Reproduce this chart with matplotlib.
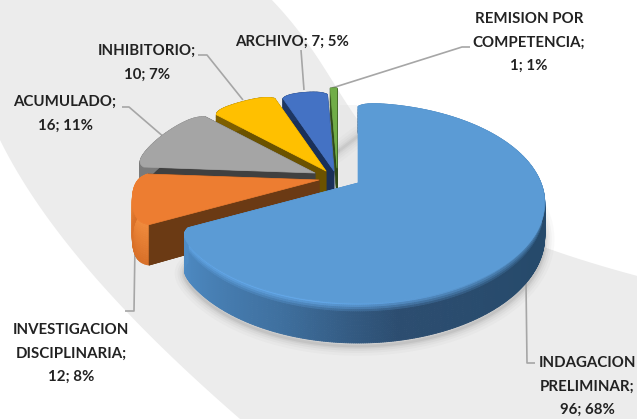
import numpy as np
import matplotlib
matplotlib.use("Agg")
import matplotlib.pyplot as plt
from matplotlib.collections import PolyCollection
from matplotlib.colors import to_rgb
from matplotlib.patches import Polygon

# ---- data ----
categories = ["INDAGACION PRELIMINAR", "INVESTIGACION DISCIPLINARIA", "ACUMULADO",
              "INHIBITORIO", "ARCHIVO", "REMISION POR COMPETENCIA"]
values = [96, 12, 16, 10, 7, 1]
label_heads = [["INDAGACION", "PRELIMINAR;"], ["INVESTIGACION", "DISCIPLINARIA;"], ["ACUMULADO;"],
               ["INHIBITORIO;"], None, ["REMISION POR", "COMPETENCIA;"]]

# ---- style ----
W, H = 637, 419
face = ["#5B9BD5", "#ED7D31", "#A5A5A5", "#FFC000", "#4472C4", "#70AD47"]
wall = ["#264A6B", "#ED7D31", "#7A7A7A", "#7F6000", "#1F3864", "#38571F"]
radial = ["#4F8DC7", "#6B3A14", "#404040", "#6B5200", "#1A3059", "#2F4A1A"]
apex = [(358, 183), (319, 180), (315, 173), (326, 171), (334, 171), (337, 168)]
depths = [32.0, 37.0, 32.0, 32.0, 32.0, 32.0]
label_pos = [(587, 363), (71, 330), (65, 102), (147, 51), (292, 42), (529, 19)]
leaders = [[(526, 283), (527, 363), (535, 363)],
           [(135, 245), (134, 311), (125, 311)],
           [(165, 138), (129, 107), (122, 107)],
           [(243, 100), (207, 55), (198, 55)],
           [(304, 90), (301, 50)],
           [(332, 88), (462, 47), (470, 47)]]
A, B, P = 96.0, 183.0, 0.2
LINE = 23.5

fig = plt.figure(figsize=(W / 100, H / 100), dpi=100, facecolor="white")
ax = fig.add_axes([0, 0, 1, 1])
ax.set_xlim(0, W)
ax.set_ylim(H, 0)
ax.axis("off")

# background swoosh
left_y = [140, 210, 310, 419]
left_x = [0, 42, 125, 240]
right_y = [0, 62, 125, 205, 247, 276]
right_x = [272, 320, 362, 450, 545, 637]
ly = np.linspace(140, 419, 80)
lx = np.polyval(np.polyfit(left_y, left_x, 3), ly)
ys = np.linspace(0, 276, 80)
rx = np.polyval(np.polyfit(right_y, right_x, 4), ys)
bg = np.vstack([[(0, 0)], np.c_[rx, ys], [(637, 419)], np.c_[lx[::-1], ly[::-1]]])
ax.add_patch(Polygon(bg, closed=True, fc="#ECECEC", ec="none", zorder=0))


def project(theta, r, ap, z):
    rad = np.radians(theta)
    u, v = r * np.sin(rad), r * np.cos(rad)
    s = 1 / (1 + P * v)
    return np.c_[ap[0] + B * u * s, ap[1] - A * v * s + z * s]


def rim(th0, th1, n):
    th = np.linspace(th0, th1, n)
    if th1 - th0 < 6:
        return th, np.ones(n)
    r = 1 - 0.05 * (np.exp(-(th - th0) / 2.5) + np.exp(-(th1 - th) / 2.5))
    return th, r


def mix(c1, c2, f):
    return tuple(np.array(to_rgb(c1)) * (1 - f) + np.array(to_rgb(c2)) * f)


def wall_color(i, th, zf):
    if i == 0:
        th_stops = [0, 90, 120, 170, 200, 243]
        cols = [to_rgb(c) for c in ["#264A6B", "#264A6B", "#264A6B", "#2C4D70", "#3F709F", "#4F8DC7"]]
        c = tuple(np.interp(th, th_stops, [k[j] for k in cols]) for j in range(3))
        hl = mix("#4F88BC", "#62A6E6", np.clip((th - 130) / 60, 0, 1))
        if zf < 0.22:
            return mix(hl, c, zf / 0.22)
        return c
    if i == 1:
        return mix("#F08A3C", "#D86F28", zf)
    return to_rgb(wall[i])


total = sum(values)
angles = np.cumsum([0] + values) / total * 360

# soft shadow below main slice
th, r = rim(angles[0], angles[1], 200)
low = project(th, r, apex[0], depths[0])
for lw, a in [(14, 0.03), (10, 0.04), (7, 0.05), (4, 0.07), (2, 0.09)]:
    ax.add_patch(Polygon(low + [0, 3], closed=True, fc="none", ec="#555555", lw=lw, alpha=a,
                         joinstyle="round", zorder=1))
# soft shadow in the gap next to the far edge
ax.add_patch(Polygon([(340, 105), (357, 105), (357, 190), (340, 190)], closed=True,
                     fc="#DDDDDD", alpha=0.25, ec="none", zorder=1))

for z_i, i in enumerate([5, 4, 3, 2, 1, 0]):
    th0, th1 = angles[i], angles[i + 1]
    n = max(int((th1 - th0) * 2), 8)
    th, r = rim(th0, th1, n)
    polys, cols = [], []
    layers = np.linspace(0, 1, 19)
    d = depths[i]
    for zt, zb in zip(layers[:-1], layers[1:]):
        top = project(th, r, apex[i], zt * d)
        bot = project(th, r, apex[i], zb * d)
        for k in range(n - 1):
            polys.append([top[k], top[k + 1], bot[k + 1], bot[k]])
            cols.append(wall_color(i, 0.5 * (th[k] + th[k + 1]), zt))
    base = 10 + z_i * 3
    for ang, rr in ((th[0], r[0]), (th[-1], r[-1])):
        c0 = project(ang, rr, apex[i], 0)[0]
        c1 = project(ang, rr, apex[i], d)[0]
        ax.add_patch(Polygon([apex[i], c0, c1, (apex[i][0], apex[i][1] + d)], closed=True,
                             fc=radial[i], ec=radial[i], lw=0.5, zorder=base))
    ax.add_collection(PolyCollection(polys, facecolors=cols, edgecolors=cols, linewidths=0.6,
                                     zorder=base + (1 if i == 0 else 0)))
    if i == 1:  # brown cut face sits in front of the orange rim
        c0 = project(th[0], r[0], apex[i], 0)[0]
        c1 = project(th[0], r[0], apex[i], d)[0]
        ax.add_patch(Polygon([apex[i], c0, c1, (apex[i][0], apex[i][1] + d)], closed=True,
                             fc=radial[i], ec=radial[i], lw=0.5, zorder=base + 1))
    top_face = np.vstack([[apex[i]], project(th, r, apex[i], 0)])
    ax.add_patch(Polygon(top_face, closed=True, fc=face[i], ec=face[i], lw=0.5,
                         joinstyle="round", zorder=base + 2))

# leader lines and labels
for pts in leaders:
    p = np.array(pts)
    ax.plot(p[:, 0], p[:, 1], color="#A6A6A6", lw=1.2, zorder=5, solid_capstyle="butt")

for i, (x, y) in enumerate(label_pos):
    tail = f"{values[i]}; {round(values[i] / total * 100)}%"
    lines = (label_heads[i] + [tail]) if label_heads[i] else [f"{categories[i]}; {tail}"]
    for j, s in enumerate(lines):
        ax.text(x, y + j * LINE, s, ha="center", va="center", fontsize=10.8,
                family="Lato", weight="bold", color="#222222", zorder=40)

fig.savefig("out.png", dpi=100)
